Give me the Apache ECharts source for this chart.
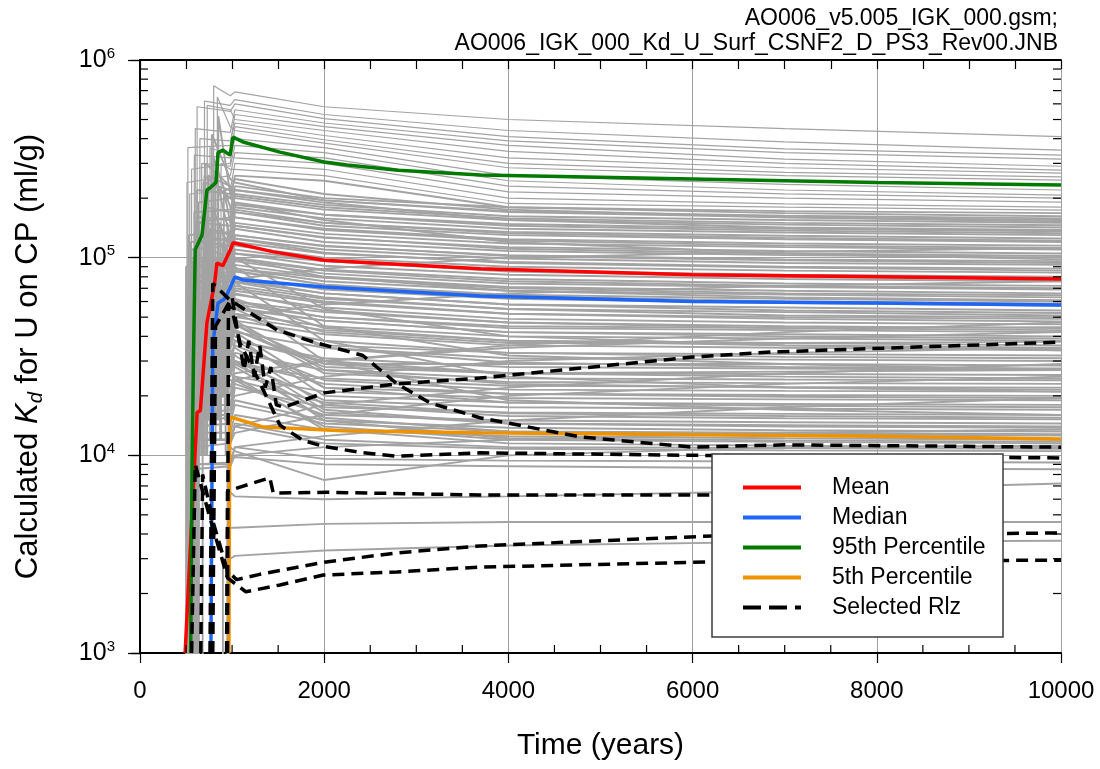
<!DOCTYPE html>
<html>
<head>
<meta charset="utf-8">
<script src="https://cdn.jsdelivr.net/npm/echarts@6.0.0/dist/echarts.min.js"></script>
<style>
  html, body { margin: 0; padding: 0; background: #ffffff; }
  #chart { width: 1100px; height: 769px; }
</style>
</head>
<body>
<div id="chart"></div>
<script>
// ---- Axis ticks -------------------------------------------------------
const xMinorTicks = [500, 1000, 1500, 2500, 3000, 3500, 4500, 5000, 5500, 6500, 7000, 7500, 8500, 9000, 9500];
const yMinorTicks = [2e3, 3e3, 4e3, 5e3, 6e3, 7e3, 8e3, 9e3,
                     2e4, 3e4, 4e4, 5e4, 6e4, 7e4, 8e4, 9e4,
                     2e5, 3e5, 4e5, 5e5, 6e5, 7e5, 8e5, 9e5];

// ---- Statistics of the realizations: [time (yr), Kd (ml/g)] ----------
const meanData = [[490, 1000], [620, 1.65e4], [655, 1.68e4], [727, 4.7e4], [810, 7.4e4], [835, 9.4e4],
  [900, 9.1e4], [990, 1.12e5], [1010, 1.19e5], [1450, 1.07e5], [2000, 9.7e4], [3700, 8.8e4],
  [6000, 8.2e4], [8000, 8.0e4], [10000, 7.8e4]];
const medianData = [[770, 1000], [790, 3.6e4], [815, 4.5e4], [847, 5.9e4], [900, 6.1e4], [925, 6.25e4],
  [977, 7.0e4], [1030, 8.0e4], [1120, 7.7e4], [2000, 7.1e4], [3700, 6.4e4], [6000, 6.0e4],
  [8000, 5.9e4], [10000, 5.76e4]];
const p95Data = [[550, 1000], [565, 8.5e3], [580, 3.0e4], [600, 1.1e5], [673, 1.3e5], [727, 2.2e5],
  [760, 2.25e5], [825, 2.4e5], [847, 3.4e5], [900, 3.5e5], [977, 3.3e5], [1010, 4.07e5],
  [1118, 3.85e5], [1520, 3.42e5], [2000, 3.05e5], [2250, 2.94e5], [2800, 2.77e5], [3700, 2.62e5],
  [6000, 2.5e5], [8000, 2.4e5], [10000, 2.33e5]];
const p5Data = [[965, 1000], [975, 1.55e4], [1010, 1.55e4], [1340, 1.39e4], [1630, 1.37e4],
  [2200, 1.33e4], [3700, 1.30e4], [6000, 1.27e4], [8000, 1.25e4], [10000, 1.21e4]];

// ---- Selected realizations --------------------------------------------
const rlz1 = [[760, 1000], [790, 7.4e4], [977, 6.1e4], [1490, 4.3e4], [1920, 3.7e4], [2420, 3.2e4],
  [2790, 2.3e4], [3150, 1.84e4], [3690, 1.55e4], [4780, 1.24e4], [6000, 1.1e4], [7000, 1.13e4], [10000, 1.1e4]];
const rlz2 = [[790, 1000], [820, 4.5e4], [1000, 6.3e4], [1060, 4.2e4], [1130, 2.7e4], [1180, 3.8e4],
  [1240, 2.5e4], [1300, 3.6e4], [1360, 2.2e4], [1420, 2.8e4], [1480, 1.8e4], [1560, 1.75e4],
  [2000, 2.07e4], [2800, 2.3e4], [3690, 2.46e4], [6000, 3.14e4], [6840, 3.33e4], [10000, 3.74e4]];
const rlz3 = [[950, 1000], [960, 5.8e4], [1000, 5.4e4], [1086, 3.7e4], [1303, 2.32e4], [1520, 1.42e4],
  [1770, 1.19e4], [1990, 1.11e4], [2420, 1.03e4], [2790, 9.9e3], [3690, 1.03e4], [6000, 1.0e4], [10000, 9.7e3]];
const rlz4 = [[940, 1000], [950, 6.6e3], [1410, 7.7e3], [1447, 6.45e3], [2040, 6.5e3], [3690, 6.3e3], [7600, 6.3e3]];
const rlz5 = [[660, 1000], [680, 8.0e3], [800, 4.5e3], [950, 2.6e3], [1050, 2.35e3], [1300, 2.5e3],
  [2000, 2.88e3], [2790, 3.21e3], [3690, 3.48e3], [6210, 3.91e3], [10000, 4.05e3]];
const rlz6 = [[560, 1000], [600, 9.0e3], [750, 5.0e3], [950, 2.4e3], [1150, 2.04e3], [1520, 2.21e3],
  [1990, 2.48e3], [2790, 2.57e3], [3690, 2.72e3], [6210, 2.89e3], [10000, 2.95e3]];
const selectedRlz = [rlz1, rlz2, rlz3, rlz4, rlz5, rlz6];

// ---- All realizations -------------------------------------------------
// each row: start time, Kd before the step, Kd after the step, then Kd at grayTimes
const grayTimes = [980, 1030, 2000, 4000, 7000, 10000];
const grayRuns = [
  [800, 3e4, 7.4e5, 6.6e5, 6.9e5, 5.8e5, 5.0e5, 4.5e5, 4.1e5],
  [700, 2e4, 6.2e5, 5.9e5, 6.3e5, 5.3e5, 4.4e5, 3.85e5, 3.5e5],
  [620, 5e4, 5.8e5, 5.5e5, 6.0e5, 5.05e5, 4.1e5, 3.55e5, 3.3e5],
  [600, 2e4, 4.5e5, 4.3e5, 5.6e5, 4.8e5, 3.9e5, 3.4e5, 3.15e5],
  [520, 1e4, 3.6e5, 3.7e5, 5.3e5, 4.6e5, 3.7e5, 3.15e5, 2.9e5],
  [730, 4e4, 5.9e5, 5.6e5, 5.0e5, 4.4e5, 3.45e5, 3.0e5, 2.77e5],
  [650, 3e4, 4.0e5, 3.9e5, 4.8e5, 4.15e5, 3.2e5, 2.85e5, 2.68e5],
  [560, 1.5e4, 2.8e5, 3.0e5, 4.6e5, 3.95e5, 3.0e5, 2.7e5, 2.56e5],
  [840, 5e4, 6.5e5, 4.6e5, 4.4e5, 3.8e5, 2.85e5, 2.6e5, 2.47e5],
  [590, 2e4, 3.3e5, 3.2e5, 4.0e5, 3.6e5, 2.6e5, 2.35e5, 2.2e5],
  [670, 3e4, 3.0e5, 2.9e5, 3.7e5, 3.4e5, 2.45e5, 2.2e5, 2.07e5],
  [510, 1e4, 2.4e5, 2.6e5, 3.4e5, 3.2e5, 2.3e5, 2.1e5, 2.0e5],
  [760, 4e4, 3.6e5, 3.3e5, 3.2e5, 3.0e5, 2.15e5, 2.0e5, 1.91e5],
  [540, 1.5e4, 2.1e5, 2.2e5, 3.0e5, 2.8e5, 2.0e5, 1.87e5, 1.8e5],
  [880, 5e4, 3.0e5, 2.8e5, 2.8e5, 2.6e5, 1.88e5, 1.8e5, 1.74e5],
  [630, 2e4, 1.9e5, 2.0e5, 2.6e5, 2.45e5, 1.8e5, 1.72e5, 1.68e5],
  [600, 2e4, 1.5e5, 1.6e5, 2.3e5, 2.0e5, 1.8e5, 1.68e5, 1.62e5],
  [780, 3e4, 4.2e5, 2.5e5, 2.4e5, 1.95e5, 1.7e5, 1.6e5, 1.55e5],
  [530, 1e4, 1.3e5, 1.35e5, 2.1e5, 1.85e5, 1.62e5, 1.55e5, 1.5e5],
  [690, 2e4, 2.4e5, 2.2e5, 2.0e5, 1.75e5, 1.55e5, 1.47e5, 1.42e5],
  [560, 1.5e4, 1.1e5, 1.15e5, 1.9e5, 1.65e5, 1.48e5, 1.4e5, 1.36e5],
  [850, 3e4, 5.2e5, 2.1e5, 1.8e5, 1.58e5, 1.4e5, 1.34e5, 1.3e5],
  [620, 2e4, 1.6e5, 1.55e5, 1.75e5, 1.5e5, 1.35e5, 1.29e5, 1.25e5],
  [500, 500, 9.0e4, 9.5e4, 1.7e5, 1.45e5, 1.3e5, 1.24e5, 1.2e5],
  [720, 2e4, 1.8e5, 1.7e5, 1.6e5, 1.4e5, 1.24e5, 1.18e5, 1.15e5],
  [580, 1.5e4, 1.0e5, 1.0e5, 1.5e5, 1.32e5, 1.18e5, 1.13e5, 1.1e5],
  [910, 3e4, 2.2e5, 1.5e5, 1.45e5, 1.26e5, 1.13e5, 1.08e5, 1.05e5],
  [650, 2e4, 1.2e5, 1.15e5, 1.4e5, 1.2e5, 1.08e5, 1.03e5, 1.0e5],
  [540, 1e4, 8.0e4, 8.5e4, 1.3e5, 1.14e5, 1.03e5, 9.8e4, 9.6e4],
  [760, 2e4, 1.4e5, 1.3e5, 1.25e5, 1.1e5, 9.9e4, 9.4e4, 9.2e4],
  [610, 1.5e4, 9.0e4, 9.0e4, 1.2e5, 1.05e5, 9.5e4, 9.0e4, 8.8e4],
  [820, 3e4, 2.6e5, 1.25e5, 1.15e5, 1.0e5, 9.0e4, 8.6e4, 8.4e4],
  [520, 500, 6.5e4, 7.0e4, 1.1e5, 9.6e4, 8.6e4, 8.2e4, 8.0e4],
  [680, 2e4, 1.0e5, 9.5e4, 1.05e5, 9.1e4, 8.2e4, 7.8e4, 7.6e4],
  [570, 1.2e4, 7.0e4, 7.2e4, 1.0e5, 8.7e4, 7.8e4, 7.4e4, 7.2e4],
  [740, 2e4, 1.1e5, 1.0e5, 9.6e4, 8.3e4, 7.4e4, 7.1e4, 6.9e4],
  [630, 1.5e4, 7.5e4, 7.6e4, 9.2e4, 8.0e4, 7.1e4, 6.8e4, 6.6e4],
  [870, 2.5e4, 1.5e5, 9.0e4, 8.8e4, 7.6e4, 6.8e4, 6.5e4, 6.3e4],
  [550, 1e4, 5.5e4, 5.8e4, 8.5e4, 7.3e4, 6.5e4, 6.2e4, 6.0e4],
  [700, 2e4, 8.0e4, 7.8e4, 8.0e4, 6.9e4, 6.2e4, 5.9e4, 5.7e4],
  [600, 1.2e4, 5.5e4, 5.6e4, 7.6e4, 6.6e4, 5.8e4, 5.6e4, 5.4e4],
  [790, 2e4, 1.0e5, 7.5e4, 7.2e4, 6.2e4, 5.5e4, 5.3e4, 5.1e4],
  [660, 1.5e4, 6.0e4, 5.9e4, 6.8e4, 5.9e4, 5.2e4, 5.0e4, 4.9e4],
  [530, 500, 4.2e4, 4.4e4, 6.5e4, 5.6e4, 4.9e4, 4.7e4, 4.6e4],
  [940, 2e4, 9.0e4, 6.2e4, 6.0e4, 5.3e4, 4.7e4, 4.5e4, 4.4e4],
  [710, 1.5e4, 5.8e4, 5.6e4, 5.8e4, 5.0e4, 4.4e4, 4.3e4, 4.2e4],
  [580, 1e4, 4.0e4, 4.1e4, 5.5e4, 4.8e4, 4.2e4, 4.1e4, 4.0e4],
  [830, 2e4, 7.5e4, 5.4e4, 5.2e4, 4.5e4, 4.0e4, 3.9e4, 3.8e4],
  [640, 1.2e4, 4.2e4, 4.2e4, 5.0e4, 4.3e4, 3.8e4, 3.7e4, 3.6e4],
  [560, 1e4, 3.2e4, 3.4e4, 4.8e4, 4.1e4, 3.6e4, 3.5e4, 3.4e4],
  [770, 1.5e4, 6.5e4, 5.5e4, 5.2e4, 3.6e4, 3.3e4, 3.25e4, 3.2e4],
  [680, 1.2e4, 3.4e4, 3.5e4, 4.2e4, 3.5e4, 3.1e4, 3.05e4, 3.0e4],
  [900, 2e4, 7.0e4, 5.0e4, 4.6e4, 2.9e4, 2.9e4, 2.9e4, 2.85e4],
  [590, 1e4, 2.6e4, 2.7e4, 3.8e4, 3.1e4, 2.8e4, 2.75e4, 2.7e4],
  [740, 1.5e4, 5.0e4, 4.6e4, 4.3e4, 2.8e4, 2.6e4, 2.58e4, 2.55e4],
  [620, 500, 2.5e4, 2.5e4, 3.3e4, 2.7e4, 2.45e4, 2.42e4, 2.4e4],
  [860, 1.5e4, 6.0e4, 4.8e4, 4.6e4, 2.6e4, 2.35e4, 2.32e4, 2.3e4],
  [540, 500, 1.9e4, 2.0e4, 2.9e4, 2.45e4, 2.25e4, 2.22e4, 2.2e4],
  [700, 1.2e4, 3.2e4, 3.2e4, 3.6e4, 2.4e4, 2.15e4, 2.12e4, 2.1e4],
  [800, 1.5e4, 5.5e4, 4.5e4, 4.2e4, 2.2e4, 2.05e4, 2.02e4, 2.0e4],
  [600, 1e4, 1.8e4, 1.8e4, 2.5e4, 2.1e4, 1.95e4, 1.92e4, 1.9e4],
  [950, 1.5e4, 6.0e4, 4.2e4, 4.0e4, 2.0e4, 1.85e4, 1.82e4, 1.8e4],
  [650, 1.2e4, 2.6e4, 2.6e4, 3.0e4, 1.9e4, 1.75e4, 1.72e4, 1.7e4],
  [560, 500, 1.5e4, 1.55e4, 2.2e4, 1.75e4, 1.65e4, 1.62e4, 1.6e4],
  [760, 1.2e4, 4.4e4, 3.8e4, 3.5e4, 1.8e4, 1.58e4, 1.54e4, 1.52e4],
  [680, 1e4, 2.0e4, 2.0e4, 2.3e4, 1.6e4, 1.5e4, 1.47e4, 1.45e4],
  [880, 1.2e4, 5.0e4, 3.4e4, 3.2e4, 1.7e4, 1.45e4, 1.4e4, 1.38e4],
  [620, 1e4, 1.6e4, 1.6e4, 1.9e4, 1.5e4, 1.38e4, 1.34e4, 1.32e4],
  [820, 1.2e4, 3.6e4, 3.0e4, 2.8e4, 1.55e4, 1.32e4, 1.28e4, 1.26e4],
  [580, 500, 1.3e4, 1.3e4, 1.6e4, 1.35e4, 1.25e4, 1.22e4, 1.2e4],
  [720, 1e4, 2.6e4, 2.4e4, 2.4e4, 1.4e4, 1.2e4, 1.17e4, 1.15e4],
  [960, 1.2e4, 3.0e4, 2.6e4, 2.5e4, 1.35e4, 1.15e4, 1.12e4, 1.1e4],
  [640, 500, 1.2e4, 1.2e4, 1.4e4, 1.15e4, 1.08e4, 1.06e4, 1.05e4],
  [600, 500, 9.0e3, 9.2e3, 1.1e4, 1.25e4, 1.5e4, 1.75e4, 1.95e4],
  [700, 1e4, 1.2e4, 1.2e4, 1.4e4, 1.8e4, 2.2e4, 2.6e4, 2.9e4],
  [560, 500, 8.5e3, 8.8e3, 1.0e4, 1.1e4, 1.2e4, 1.3e4, 1.35e4],
  [650, 1e4, 2.0e4, 2.0e4, 2.4e4, 3.0e4, 3.6e4, 4.2e4, 4.7e4],
  [590, 500, 9.0e3, 9.0e3, 1.1e4, 9.6e3, 9.4e3, 9.3e3, 9.2e3],
  [960, 500, 9.5e3, 9.5e3, 9.8e3, 9.0e3, 8.8e3, 8.6e3, 8.5e3],
  [950, 500, 1.2e4, 1.1e4, 1.05e4, 7.5e3, 1.0e4, 1.1e4, 1.12e4],
  [960, 500, 7.0e3, 6.5e3, 6.2e3, 6.0e3, 6.2e3, 6.6e3, 7.2e3],
  [950, 500, 4.4e3, 4.3e3, 4.3e3, 4.5e3, 4.6e3, 4.6e3, 4.6e3],
  [900, 500, 3.0e3, 3.0e3, 3.1e3, 3.3e3, 3.5e3, 3.65e3, 3.7e3],
  [590, 2e4, 1.7e5, 1.75e5, 2.2e5, 1.95e5, 1.72e5, 1.63e5, 1.58e5],
  [710, 3e4, 3.0e5, 2.3e5, 2.05e5, 1.8e5, 1.58e5, 1.5e5, 1.46e5],
  [550, 1.5e4, 1.2e5, 1.25e5, 1.85e5, 1.65e5, 1.45e5, 1.37e5, 1.33e5],
  [640, 2e4, 1.5e5, 1.45e5, 1.7e5, 1.5e5, 1.33e5, 1.26e5, 1.22e5],
  [800, 3e4, 3.2e5, 1.8e5, 1.6e5, 1.38e5, 1.22e5, 1.15e5, 1.12e5],
  [570, 1.5e4, 9.5e4, 1.0e5, 1.45e5, 1.27e5, 1.11e5, 1.05e5, 1.02e5],
  [690, 2e4, 1.3e5, 1.2e5, 1.3e5, 1.15e5, 1.02e5, 9.7e4, 9.4e4],
  [530, 1.2e4, 7.5e4, 8.0e4, 1.25e5, 1.06e5, 9.4e4, 8.9e4, 8.6e4],
  [780, 2.5e4, 1.8e5, 1.1e5, 1.05e5, 9.6e4, 8.5e4, 8.0e4, 7.8e4],
  [620, 1.5e4, 8.0e4, 8.0e4, 9.8e4, 8.6e4, 7.6e4, 7.2e4, 7.0e4],
  [730, 2e4, 1.0e5, 9.0e4, 8.8e4, 7.9e4, 7.0e4, 6.6e4, 6.45e4],
  [560, 1.2e4, 5.8e4, 6.0e4, 8.6e4, 7.3e4, 6.4e4, 6.0e4, 5.85e4],
  [900, 2e4, 1.2e5, 8.2e4, 7.8e4, 6.6e4, 5.8e4, 5.4e4, 5.25e4],
  [610, 1.2e4, 5.0e4, 5.1e4, 7.0e4, 6.0e4, 5.2e4, 4.9e4, 4.75e4],
  [750, 1.5e4, 8.5e4, 7.0e4, 6.6e4, 5.4e4, 4.7e4, 4.4e4, 4.3e4],
  [580, 1.2e4, 3.8e4, 3.9e4, 5.6e4, 4.8e4, 4.2e4, 4.0e4, 3.9e4],
  [840, 1.5e4, 9.0e4, 6.5e4, 6.2e4, 4.4e4, 3.8e4, 3.6e4, 3.5e4],
  [660, 1.2e4, 3.8e4, 3.8e4, 4.6e4, 3.8e4, 3.3e4, 3.15e4, 3.1e4],
  [920, 1.5e4, 8.0e4, 5.8e4, 5.5e4, 3.5e4, 2.95e4, 2.8e4, 2.75e4],
  [600, 1e4, 2.8e4, 2.9e4, 3.8e4, 3.0e4, 2.6e4, 2.5e4, 2.45e4],
  [790, 1.2e4, 6.0e4, 5.0e4, 4.8e4, 2.7e4, 2.3e4, 2.2e4, 2.15e4],
  [670, 1e4, 2.5e4, 2.5e4, 3.0e4, 2.3e4, 2.05e4, 1.98e4, 1.95e4],
  [870, 1.2e4, 5.2e4, 4.0e4, 3.8e4, 2.2e4, 1.85e4, 1.78e4, 1.75e4],
  [550, 500, 1.6e4, 1.7e4, 2.4e4, 1.85e4, 1.63e4, 1.58e4, 1.55e4],
  [730, 1e4, 3.4e4, 3.0e4, 2.9e4, 1.65e4, 1.45e4, 1.42e4, 1.4e4],
  [610, 500, 1.4e4, 1.45e4, 1.8e4, 1.45e4, 1.32e4, 1.3e4, 1.28e4],
  [930, 1e4, 4.0e4, 3.2e4, 3.0e4, 1.5e4, 1.22e4, 1.19e4, 1.17e4],
  [680, 500, 1.2e4, 1.2e4, 1.45e4, 1.2e4, 1.1e4, 1.09e4, 1.08e4],
  [700, 1e4, 2.2e4, 2.2e4, 2.6e4, 3.0e4, 3.5e4, 3.9e4, 4.2e4],
  [640, 1e4, 1.8e4, 1.8e4, 2.0e4, 2.5e4, 3.0e4, 3.3e4, 3.5e4],
  [580, 500, 1.1e4, 1.15e4, 1.3e4, 1.6e4, 2.0e4, 2.3e4, 2.5e4],
  [760, 1.5e4, 4.5e4, 4.5e4, 5.0e4, 5.8e4, 6.6e4, 7.2e4, 7.6e4],
  [820, 2e4, 7.0e4, 7.0e4, 7.8e4, 8.8e4, 1.0e5, 1.07e5, 1.12e5],
  [950, 2e4, 1.5e5, 1.1e5, 1.0e5, 5.5e4, 4.0e4, 3.6e4, 3.4e4],
  [900, 2e4, 1.2e5, 9.5e4, 9.0e4, 4.5e4, 3.2e4, 2.9e4, 2.7e4],
  [860, 1.5e4, 1.0e5, 8.0e4, 7.5e4, 3.8e4, 2.5e4, 2.2e4, 2.1e4],
  [960, 1.5e4, 7.0e4, 6.5e4, 6.2e4, 3.0e4, 1.9e4, 1.7e4, 1.6e4],
  [700, 1.5e4, 2.6e5, 2.0e5, 1.9e5, 1.55e5, 1.2e5, 1.05e5, 9.8e4],
  [620, 2e4, 2.2e5, 2.1e5, 2.5e5, 2.1e5, 1.75e5, 1.6e5, 1.52e5],
  [740, 2e4, 2.6e5, 2.3e5, 2.2e5, 1.9e5, 1.55e5, 1.42e5, 1.38e5],
  [520, 1e4, 5.0e4, 5.4e4, 1.0e5, 8.0e4, 6.8e4, 6.3e4, 6.1e4],
  [680, 1.2e4, 6.5e4, 6.2e4, 7.5e4, 6.3e4, 5.5e4, 5.1e4, 5.0e4],
  [600, 1.2e4, 4.5e4, 4.5e4, 6.0e4, 5.0e4, 4.5e4, 4.4e4, 4.45e4],
  [800, 1.5e4, 7.0e4, 6.0e4, 5.6e4, 4.2e4, 3.7e4, 3.7e4, 3.75e4],
  [880, 1.5e4, 5.5e4, 4.5e4, 4.3e4, 2.9e4, 2.6e4, 2.65e4, 2.7e4]
];

const FONT = 'Liberation Sans, Arial, sans-serif';
const BLACK = '#000000';

function runPoints(run) {
  const pts = [[run[0], run[1]], [run[0], run[2]]];
  grayTimes.forEach((t, i) => pts.push([t, run[i + 3]]));
  return pts;
}

const series = [];

// the crowded band below ~1.7e5 is drawn a little heavier than the sparse top runs
grayRuns.forEach((run) => {
  const crowded = run[run.length - 1] < 1.7e5;
  series.push({
    type: 'line', data: runPoints(run), showSymbol: false, symbol: 'none', silent: true,
    lineStyle: { color: '#a3a3a3', width: crowded ? 1.9 : 1.2 }, z: 2, emphasis: { disabled: true }
  });
});

function statSeries(name, data, color) {
  return {
    name: name, type: 'line', data: data, symbol: 'none', showSymbol: false, silent: true,
    lineStyle: { color: color, width: 3.5 }, itemStyle: { color: color }, z: 5,
    emphasis: { disabled: true }
  };
}
series.push(statSeries('Mean', meanData, '#ff0000'));
series.push(statSeries('Median', medianData, '#1f66f5'));
series.push(statSeries('95th Percentile', p95Data, '#007a00'));
series.push(statSeries('5th Percentile', p5Data, '#ee9200'));

selectedRlz.forEach((d) => {
  series.push({
    name: 'Selected Rlz', type: 'line', data: d, symbol: 'none', showSymbol: false, silent: true,
    lineStyle: { color: BLACK, width: 3.5, type: [12, 7] }, itemStyle: { color: BLACK }, z: 6,
    emphasis: { disabled: true }
  });
});

// minor ticks of the log axis (left and right frame) and the time axis (bottom frame)
series.push({
  type: 'custom', silent: true, z: 8, clip: false,
  data: yMinorTicks.map((v) => [0, v]),
  encode: { x: 0, y: 1 },
  renderItem: function (params, api) {
    const v = api.value(1);
    const l = api.coord([0, v]);
    const r = api.coord([10000, v]);
    return {
      type: 'group', children: [
        { type: 'line', shape: { x1: l[0], y1: l[1], x2: l[0] + 8, y2: l[1] }, style: { stroke: BLACK, lineWidth: 1.2 } },
        { type: 'line', shape: { x1: r[0] - 8, y1: r[1], x2: r[0], y2: r[1] }, style: { stroke: BLACK, lineWidth: 1.2 } }
      ]
    };
  }
});
series.push({
  type: 'custom', silent: true, z: 8, clip: false,
  data: xMinorTicks.map((t) => [t, 1000]),
  encode: { x: 0, y: 1 },
  renderItem: function (params, api) {
    const p = api.coord([api.value(0), 1000]);
    return { type: 'line', shape: { x1: p[0], y1: p[1], x2: p[0], y2: p[1] - 8 }, style: { stroke: BLACK, lineWidth: 1.2 } };
  }
});

const chart = echarts.init(document.getElementById('chart'), null, { renderer: 'canvas' });
chart.setOption({
  animation: false,
  backgroundColor: '#ffffff',
  textStyle: { fontFamily: FONT },
  grid: { left: 140, top: 60, width: 921, height: 593, containLabel: false },
  xAxis: [
    {
      type: 'value', min: 0, max: 10000, interval: 2000, position: 'bottom',
      name: 'Time (years)', nameLocation: 'middle', nameGap: 78,
      nameTextStyle: { fontFamily: FONT, fontSize: 30, color: BLACK },
      axisLine: { lineStyle: { color: BLACK, width: 2 } },
      axisTick: { inside: false, length: 10, lineStyle: { color: BLACK, width: 1.2 } },
      axisLabel: { fontFamily: FONT, fontSize: 24, color: BLACK, margin: 26,
        formatter: function (v) { return String(v); } },
      splitLine: { show: true, lineStyle: { color: '#a0a0a0', width: 1 } }
    },
    {
      type: 'value', min: 0, max: 10000, interval: 500, position: 'top',
      axisLine: { lineStyle: { color: BLACK, width: 2 } },
      axisTick: { inside: true, length: 9, lineStyle: { color: BLACK, width: 1.2 } },
      axisLabel: { show: false }, splitLine: { show: false }
    }
  ],
  yAxis: [
    {
      type: 'log', logBase: 10, min: 1000, max: 1000000, position: 'left',
      name: '{n|Calculated }{k|K}{d|d}{n| for U on CP (ml/g)}',
      nameLocation: 'middle', nameGap: 94, nameRotate: 90,
      nameTextStyle: {
        color: BLACK,
        rich: {
          n: { fontFamily: FONT, fontSize: 31, color: BLACK, lineHeight: 36 },
          k: { fontFamily: FONT, fontSize: 31, fontStyle: 'italic', color: BLACK, lineHeight: 36 },
          d: { fontFamily: FONT, fontSize: 20, fontStyle: 'italic', color: BLACK, verticalAlign: 'bottom' }
        }
      },
      axisLine: { lineStyle: { color: BLACK, width: 2 } },
      axisTick: { inside: false, length: 12, lineStyle: { color: BLACK, width: 1.2 } },
      axisLabel: {
        margin: 25,
        formatter: function (v) { return '{b|10}{s|' + Math.round(Math.log10(v)) + '}'; },
        rich: {
          b: { fontFamily: FONT, fontSize: 25, color: BLACK, lineHeight: 28 },
          s: { fontFamily: FONT, fontSize: 15, color: BLACK, verticalAlign: 'top', lineHeight: 15 }
        }
      },
      splitLine: { show: true, lineStyle: { color: '#a0a0a0', width: 1 } }
    },
    {
      type: 'log', logBase: 10, min: 1000, max: 1000000, position: 'right',
      axisLine: { lineStyle: { color: BLACK, width: 2 } },
      axisTick: { inside: true, length: 9, lineStyle: { color: BLACK, width: 1.2 } },
      axisLabel: { show: false }, splitLine: { show: false }
    }
  ],
  legend: {
    orient: 'vertical', left: 712, top: 454, z: 20,
    data: ['Mean', 'Median', '95th Percentile', '5th Percentile',
      { name: 'Selected Rlz', lineStyle: { type: [18, 8], width: 4 } }],
    padding: [22, 10, 10, 29], itemWidth: 58, itemHeight: 14, itemGap: 7,
    selectedMode: false,
    itemStyle: { opacity: 0 },
    lineStyle: { width: 4 },
    textStyle: { fontFamily: FONT, fontSize: 23, color: BLACK, lineHeight: 22, padding: [0, 0, 0, 26] }
  },
  graphic: [
    { type: 'rect', z: 15, shape: { x: 712, y: 454, width: 291, height: 183 },
      style: { fill: '#ffffff', stroke: '#3c3c3c', lineWidth: 1.5 } },
    { type: 'text', z: 15, x: 1058, y: 7,
      style: { text: 'AO006_v5.005_IGK_000.gsm;', textAlign: 'right', textVerticalAlign: 'top',
        font: '23px ' + FONT, fill: BLACK } },
    { type: 'text', z: 15, x: 1058, y: 32,
      style: { text: 'AO006_IGK_000_Kd_U_Surf_CSNF2_D_PS3_Rev00.JNB', textAlign: 'right', textVerticalAlign: 'top',
        font: '23px ' + FONT, fill: BLACK } }
  ],
  series: series
});
</script>
</body>
</html>
